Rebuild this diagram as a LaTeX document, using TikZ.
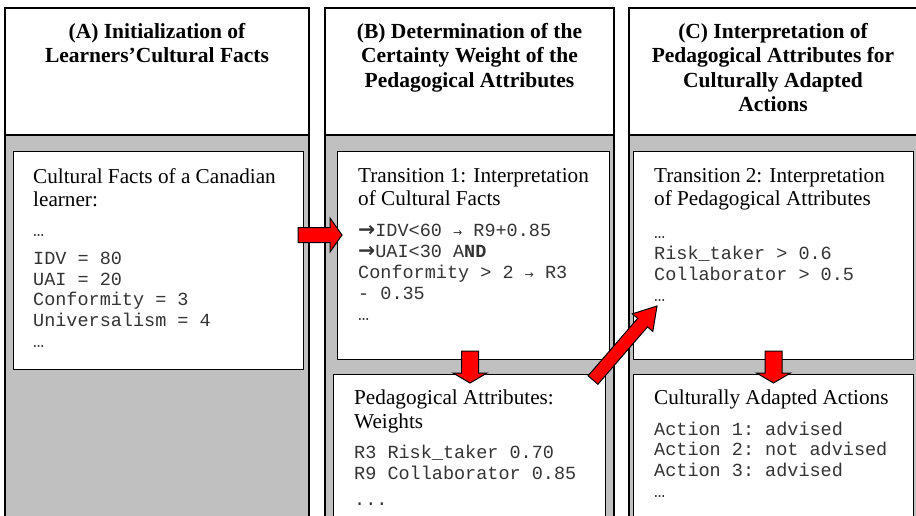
\documentclass[tikz,border=0pt]{standalone}
\usepackage{fontspec}
\setmainfont{Liberation Serif}
\setmonofont{Liberation Mono}
\newfontfamily\arrowfont{DejaVu Sans}
\usetikzlibrary{calc}

% block arrow: from, to, half shaft, half head, head length
\newcommand{\fatarrow}[5]{%
  \coordinate (fabase) at ($(#2)!#5pt!(#1)$);
  \filldraw[fatarr] ($(#1)!#3pt!90:(#2)$) -- ($(fabase)!#3pt!90:(#2)$)
    -- ($(fabase)!#4pt!90:(#2)$) -- (#2) -- ($(fabase)!#4pt!-90:(#2)$)
    -- ($(fabase)!#3pt!-90:(#2)$) -- ($(#1)!#3pt!-90:(#2)$) -- cycle;}

\begin{document}
\begin{tikzpicture}[x=1pt, y=-1pt, line join=miter,
  colline/.style={draw=black, line width=1.2pt},
  box/.style={draw=black, line width=1.2pt, fill=white, inner sep=0pt, anchor=north west},
  fatarr/.style={fill=colArrow, draw=black, line width=1pt},
  head/.style={anchor=base, inner sep=0pt, align=center, font=\bfseries\fontsize{21.5}{24.6}\selectfont},
  txt/.style={anchor=base west, inner sep=0pt, align=left, font=\fontsize{21.2}{23.2}\selectfont},
  code/.style={anchor=base west, inner sep=0pt, align=left, text=black!80, font=\ttfamily\fontsize{18.5}{20.7}\selectfont}]

% ------------------------
% Colors
% ------------------------
\definecolor{colGray}{RGB}{192,192,192}
\definecolor{colArrow}{RGB}{255,0,0}

\clip (0,0) rectangle (916,515);

% ------------------------
% Columns: header + grey body
% ------------------------
\def\htop{8}   % top of headers
\def\hbot{135} % bottom of headers
\foreach \l/\r in {5/309, 325/614, 629/918} {
    \fill[colGray] (\l,\hbot) rectangle (\r,530);
    \draw[colline] (\l,530) -- (\l,\hbot) -- (\r,\hbot) -- (\r,530);
    \filldraw[colline, fill=white] (\l,\htop) rectangle (\r,\hbot);
}

% (base anchor = baseline of the last line)
\node[head] (headA) at (157,62.6) {(A) Initialization of\\Learners’Cultural Facts};
\node[head] (headB) at (469.5,87.2) {(B) Determination of the\\Certainty Weight of the\\Pedagogical Attributes};
\node[head] (headC) at (773,111.8) {(C) Interpretation of\\Pedagogical Attributes for\\Culturally Adapted\\Actions};

% ------------------------
% Boxes
% ------------------------
\node[box, minimum width=290pt, minimum height=218pt] (factsA) at (13,151) {};
\node[box, minimum width=272pt, minimum height=208pt] (transB) at (337,151) {};
\node[box, minimum width=272pt, minimum height=160pt] (weightsB) at (333,374) {};
\node[box, minimum width=280pt, minimum height=208pt] (transC) at (633,151) {};
\node[box, minimum width=280pt, minimum height=160pt] (actionsC) at (633,374) {};

% A: cultural facts
\node[txt] (factsAtitle) at (33,206.2) {Cultural Facts of a Canadian\\learner:};
\node[code] (factsAdots) at (33,236) {…};
\node[code] (factsAvals) at (33,347.3) {IDV = 80\\UAI = 20\\Conformity = 3\\Universalism = 4\\…};

% B: transition 1
\node[txt] (transBtitle) at (358,205.2) {Transition 1: Interpretation\\of Cultural Facts};
\node[code, font=\ttfamily\fontsize{18.5}{21.2}\selectfont] (transBrules) at (358,320.8)
  {{\arrowfont\bfseries\fontsize{20.5}{20}\selectfont →}IDV<60 {\arrowfont\fontsize{11}{11}\selectfont →} R9+0.85\\
   {\arrowfont\bfseries\fontsize{20.5}{20}\selectfont →}UAI<30 A\textbf{ND}\\
   Conformity > 2 {\arrowfont\fontsize{11}{11}\selectfont →} R3\\
   - 0.35\\…};

% B: weights
\node[txt, font=\fontsize{21.2}{24}\selectfont] (weightsBtitle) at (354,428) {Pedagogical Attributes:\\Weights};
\node[code, font=\ttfamily\fontsize{18.5}{21}\selectfont] (weightsBvals) at (354,479) {R3 Risk\_taker 0.70\\R9 Collaborator 0.85};
\node[code] (weightsBdots) at (354,505) {...};

% C: transition 2
\node[txt] (transCtitle) at (654,205.2) {Transition 2: Interpretation\\of Pedagogical Attributes};
\node[code, font=\ttfamily\fontsize{18.5}{21}\selectfont] (transCrules) at (654,301) {…\\Risk\_taker > 0.6\\Collaborator > 0.5\\…};

% C: actions
\node[txt] (actionsCtitle) at (654,404) {Culturally Adapted Actions};
\node[code] (actionsCvals) at (654,497.1) {Action 1: advised\\Action 2: not advised\\Action 3: advised\\…};

% ------------------------
% Block arrows
% ------------------------
\coordinate (arAB0) at (298,235);
\coordinate (arAB1) at (342,235);
\coordinate (arB0) at (470,351);
\coordinate (arB1) at (470,383);
\coordinate (arBC0) at (593,380);
\coordinate (arBC1) at (657,306);
\coordinate (arC0) at (773.5,351);
\coordinate (arC1) at (773.5,383);

\fatarrow{arAB0}{arAB1}{7.5}{17}{12}
\fatarrow{arB0}{arB1}{8.5}{17}{10}
\fatarrow{arC0}{arC1}{8.5}{17}{10}
\fatarrow{arBC0}{arBC1}{6.5}{13.5}{22}

\end{tikzpicture}
\end{document}
